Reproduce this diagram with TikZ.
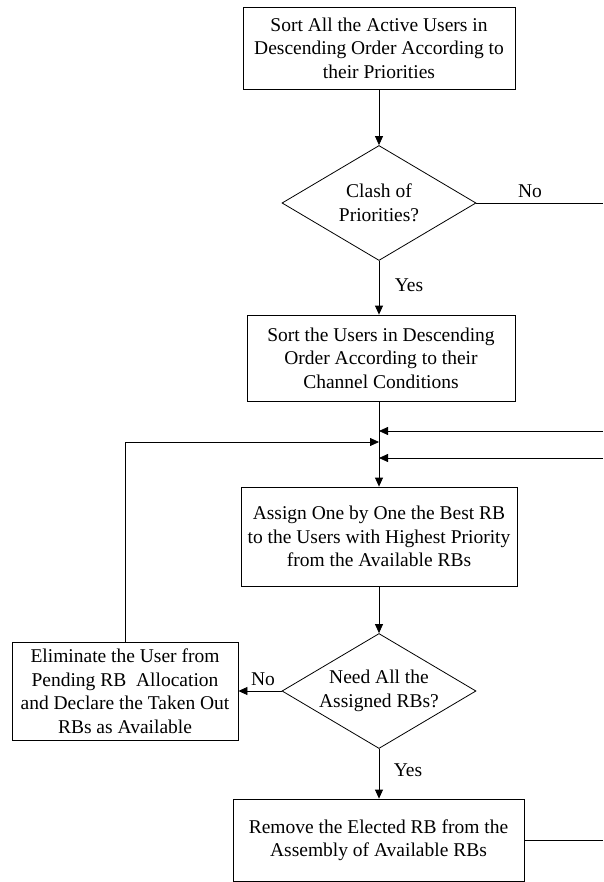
\documentclass[tikz,border=0pt]{standalone}
\usepackage{fontspec}
\setmainfont{Liberation Serif}
\usetikzlibrary{arrows.meta,shapes.geometric}
\tikzset{
  >={Triangle[length=9pt,width=8pt]},
  box/.style={rectangle,draw,align=center,inner sep=2pt},
  dec/.style={diamond,draw,align=center,inner sep=0pt,aspect=1.69,minimum width=194pt,minimum height=115pt},
  lb/.style={inner sep=1pt},
  every picture/.style={line width=0.8pt,font=\fontsize{19.5}{23.5}\selectfont},
}
\begin{document}
\begin{tikzpicture}[x=1pt,y=-1pt]
\useasboundingbox (0,0) rectangle (603,882);
\node[box,minimum width=272pt,minimum height=82pt] (s1) at (379,48) {Sort All the Active Users in\\Descending Order According to\\their Priorities};
\node[dec] (c1) at (379,203) {Clash of\\Priorities?};
\node[box,minimum width=268pt,minimum height=86pt] (s2) at (381,358) {Sort the Users in Descending\\Order According to their\\Channel Conditions};
\node[box,minimum width=276pt,minimum height=99pt] (a1) at (379,536.5) {Assign One by One the Best RB\\to the Users with Highest Priority\\from the Available RBs};
\node[dec] (c2) at (379,691) {Need All the\\Assigned RBs?};
\node[box,minimum width=226pt,minimum height=98pt] (e1) at (125,691) {Eliminate the User from\\Pending RB\ \ Allocation\\and Declare the Taken Out\\RBs as Available};
\node[box,minimum width=291pt,minimum height=82pt] (r1) at (378.5,840) {Remove the Elected RB from the\\Assembly of Available RBs};
\coordinate (o1) at (603,203); \coordinate (o2) at (603,431);
\coordinate (o3) at (603,458); \coordinate (o4) at (603,840);
\coordinate (k1) at (125,442);
\draw[->] (s1)--(c1); \draw[->] (c1)--(c1|-s2.north);
\draw (c1.east)--(o1); \draw[->] (s2.south-|a1.north)--(a1);
\draw[->] (o2)--(o2-|a1.north); \draw[->] (o3)--(o3-|a1.north);
\draw[->] (a1)--(c2); \draw[->] (c2)--(e1); \draw[->] (c2)--(c2|-r1.north);
\draw (e1)--(k1); \draw[->] (k1)--(k1-|a1.north); \draw (r1)--(o4);
\node[lb] (n1) at (530,191) {No}; \node[lb] (y1) at (409,285) {Yes};
\node[lb] (n2) at (263,679) {No}; \node[lb] (y2) at (408,770) {Yes};
\end{tikzpicture}
\end{document}
